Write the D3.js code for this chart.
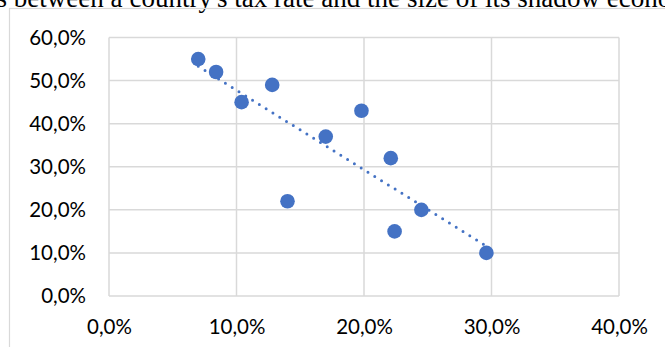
<!DOCTYPE html>
<html><head><meta charset="utf-8">
<script src="https://cdn.jsdelivr.net/npm/d3@7"></script>
<style>html,body{margin:0;padding:0;background:#fff;overflow:hidden}</style>
</head><body>
<script>
const titleLead = "Relations ";
const titleRest = "between a country's tax rate and the size of its shadow economy";
const taxRate = [7.0, 8.4, 10.4, 12.8, 14.0, 17.0, 19.8, 22.1, 22.4, 24.5, 29.6];
const shadowEconomy = [55, 52, 45, 49, 22, 37, 43, 32, 15, 20, 10];
const trendX = [7.0, 29.6];
const trendY = [53.3, 11.6];
const xTicks = [0, 10, 20, 30, 40];
const yTicks = [0, 10, 20, 30, 40, 50, 60];

const W = 665, H = 347;
const svg = d3.select("body").append("svg").attr("width", W).attr("height", H);
const fmt = v => d3.format(".1f")(v).replace(".", ",") + "%";
const labelFont = "Lato, 'Open Sans', sans-serif";
const serif = "'Liberation Serif', 'Times New Roman', serif";

// document title (partially clipped, as in the source page)
function measure(str, size) {
  const tmp = svg.append("text").attr("font-family", serif).attr("font-size", size).text(str);
  const w = tmp.node().getComputedTextLength();
  tmp.remove();
  return w;
}
const visW = measure("between a country's tax rate and the size of its shadow econo", 20);
const fs = 20 * 658 / visW;
const pre = measure(titleLead, fs);
svg.append("text").attr("x", 7 - pre).attr("y", 7)
  .attr("font-family", serif).attr("font-size", fs).attr("fill", "#000")
  .text(titleLead + titleRest);

// chart outer border
svg.append("rect").attr("x", 9.5).attr("y", 8.5).attr("width", 700).attr("height", 400)
  .attr("fill", "none").attr("stroke", "#d9d9d9").attr("stroke-width", 1.2);

const x = d3.scaleLinear().domain([0, 40]).range([109, 619]);
const y = d3.scaleLinear().domain([0, 60]).range([296, 37.5]);

// gridlines
const g = svg.append("g");
g.selectAll(".hy").data(yTicks).join("line")
  .attr("x1", x(0)).attr("x2", x(40)).attr("y1", d => y(d)).attr("y2", d => y(d))
  .attr("stroke", "#d9d9d9").attr("stroke-width", 1.5);
g.selectAll(".vx").data(xTicks).join("line")
  .attr("y1", y(0)).attr("y2", y(60)).attr("x1", d => x(d)).attr("x2", d => x(d))
  .attr("stroke", "#d9d9d9").attr("stroke-width", 1.5);

// axes labels
const yAxis = d3.axisLeft(y).tickValues(yTicks).tickFormat(fmt).tickSize(0).tickPadding(23);
const ya = svg.append("g").attr("transform", `translate(${x(0)},0)`).call(yAxis);
const xAxis = d3.axisBottom(x).tickValues(xTicks).tickFormat(fmt).tickSize(0).tickPadding(23);
const xa = svg.append("g").attr("transform", `translate(0,${y(0)})`).call(xAxis);
[ya, xa].forEach(a => {
  a.select(".domain").remove();
  a.selectAll("text").attr("font-family", labelFont).attr("font-size", 20.5).attr("fill", "#000");
});

// trendline
svg.append("path")
  .attr("d", d3.line().x(d => x(d[0])).y(d => y(d[1]))(trendX.map((v, i) => [v, trendY[i]])))
  .attr("fill", "none").attr("stroke", "#4472C4").attr("stroke-width", 3)
  .attr("stroke-linecap", "round").attr("stroke-dasharray", "0 8");

// points
svg.selectAll(".pt").data(taxRate.map((v, i) => [v, shadowEconomy[i]])).join("circle")
  .attr("cx", d => x(d[0])).attr("cy", d => y(d[1])).attr("r", 7.3)
  .attr("fill", "#4472C4");
</script>
</body></html>
